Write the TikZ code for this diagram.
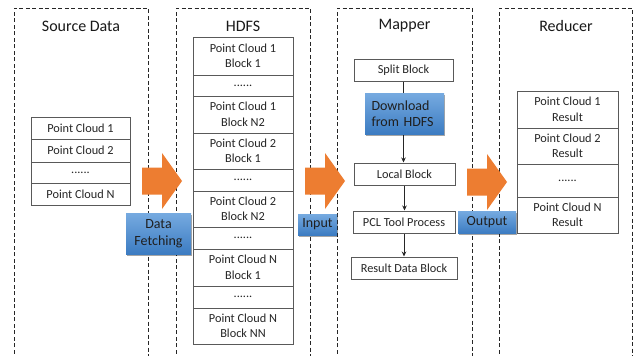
\documentclass[tikz,border=0pt]{standalone}
\usepackage{fontspec}
\setmainfont{Carlito}
\usetikzlibrary{shadows,arrows.meta}
\definecolor{orng}{HTML}{ED7D31}
\definecolor{bluetop}{RGB}{118,170,224}
\definecolor{bluebot}{RGB}{60,124,194}
\definecolor{celltext}{HTML}{262626}
\begin{document}
\begin{tikzpicture}[x=1pt,y=-1pt,
  panel/.style={draw=black!85, dash pattern=on 4pt off 2.5pt, line width=0.8pt},
  cell/.style={draw=black!65, line width=1pt, fill=white, inner sep=0pt, align=center,
    font=\fontsize{12.3}{15.5}\selectfont, text=celltext},
  sdcell/.style={cell, minimum width=99pt},
  hdcell/.style={cell, minimum width=100pt},
  rdcell/.style={cell, minimum width=101pt},
  title/.style={font=\fontsize{16}{19}\selectfont, text=black!90, inner sep=0pt},
  bluebox/.style={top color=bluetop, bottom color=bluebot, draw=none,
    drop shadow={shadow xshift=1.2pt, shadow yshift=-1.6pt, opacity=0.35, fill=black},
    font=\fontsize{14}{16.5}\selectfont, text=black!88, inner sep=0pt, align=center},
  flow/.style={-{Stealth[length=5pt,width=4.5pt]}, draw=black!85, line width=0.8pt},
  orangearrow/.pic={\fill[orng] (0,-13.5) -- (20,-13.5) -- (20,-28) -- (40,0) -- (20,28) -- (20,13.5) -- (0,13.5) -- cycle;}
]
\useasboundingbox (0,0) rectangle (633,356);
\fill[white] (0,0) rectangle (633,356);

% dashed panels
\draw[panel] (14,360) -- (14,8) -- (148,8) -- (148,360);
\draw[panel] (176,360) -- (176,8) -- (310,8) -- (310,360);
\draw[panel] (337,360) -- (337,8) -- (472,8) -- (472,360);
\draw[panel] (499,360) -- (499,8) -- (632,8) -- (632,360);

% titles
\node[title] (tsrc) at (81,26) {Source Data};
\node[title] (thdfs) at (243,26) {HDFS};
\node[title] (tmap) at (404.5,26) {Mapper};
\node[title] (tred) at (566,26) {Reducer};

% orange arrows
\pic at (142,181) {orangearrow};
\pic at (305,181) {orangearrow};
\pic at (467,182) {orangearrow};

% source data
\node[sdcell, minimum height=22pt] (s1) at (80.5,128) {Point Cloud 1};
\node[sdcell, minimum height=23pt] (s2) at (80.5,150.5) {Point Cloud 2};
\node[sdcell, minimum height=21pt] (s3) at (80.5,172.5) {......};
\node[sdcell, minimum height=22pt] (s4) at (80.5,194) {Point Cloud N};

% HDFS
\node[hdcell, minimum height=38pt] (h1) at (243,56) {Point Cloud 1\\Block 1};
\node[hdcell, minimum height=21pt] (h2) at (243,85.5) {......};
\node[hdcell, minimum height=37pt] (h3) at (243,114.5) {Point Cloud 1\\Block N2};
\node[hdcell, minimum height=36pt] (h4) at (243,151) {Point Cloud 2\\Block 1};
\node[hdcell, minimum height=22pt] (h5) at (243,180) {......};
\node[hdcell, minimum height=36pt] (h6) at (243,209) {Point Cloud 2\\Block N2};
\node[hdcell, minimum height=22pt] (h7) at (243,238) {......};
\node[hdcell, minimum height=37pt] (h8) at (243,267.5) {Point Cloud N\\Block 1};
\node[hdcell, minimum height=22pt] (h9) at (243,297) {......};
\node[hdcell, minimum height=36pt] (h10) at (243,326) {Point Cloud N\\Block NN};

% Reducer
\node[rdcell, minimum height=37pt] (r1) at (567.5,109.5) {Point Cloud 1\\Result};
\node[rdcell, minimum height=36pt] (r2) at (567.5,146) {Point Cloud 2\\Result};
\node[rdcell, minimum height=33pt] (r3) at (567.5,180.5) {......};
\node[rdcell, minimum height=36pt] (r4) at (567.5,215) {Point Cloud N\\Result};

% Mapper
\node[cell, minimum width=99pt, minimum height=22pt] (split) at (403.5,70) {Split Block};
\node[cell, minimum width=101pt, minimum height=22pt] (local) at (404.5,174) {Local Block};
\node[cell, minimum width=102pt, minimum height=22pt] (pcl) at (404,222) {PCL Tool Process};
\node[cell, minimum width=106pt, minimum height=22pt] (res) at (404,268) {Result Data Block};
\draw[flow] (split.south) -- (split.south |- local.north);
\draw[flow] (local.south) -- (local.south |- pcl.north);
\draw[flow] (pcl.south) -- (pcl.south |- res.north);

% blue labels
\node[bluebox, minimum width=79pt, minimum height=41pt, text width=66pt, inner xsep=6.5pt, align=left] (dl) at (404.5,113.5) {Download\\from HDFS};
\node[bluebox, minimum width=65pt, minimum height=41pt] (df) at (158.5,233.5) {Data\\Fetching};
\node[bluebox, minimum width=39pt, minimum height=21pt] (inp) at (317.5,224.5) {Input};
\node[bluebox, minimum width=58pt, minimum height=22pt] (outp) at (487,222) {Output};
\end{tikzpicture}
\end{document}
